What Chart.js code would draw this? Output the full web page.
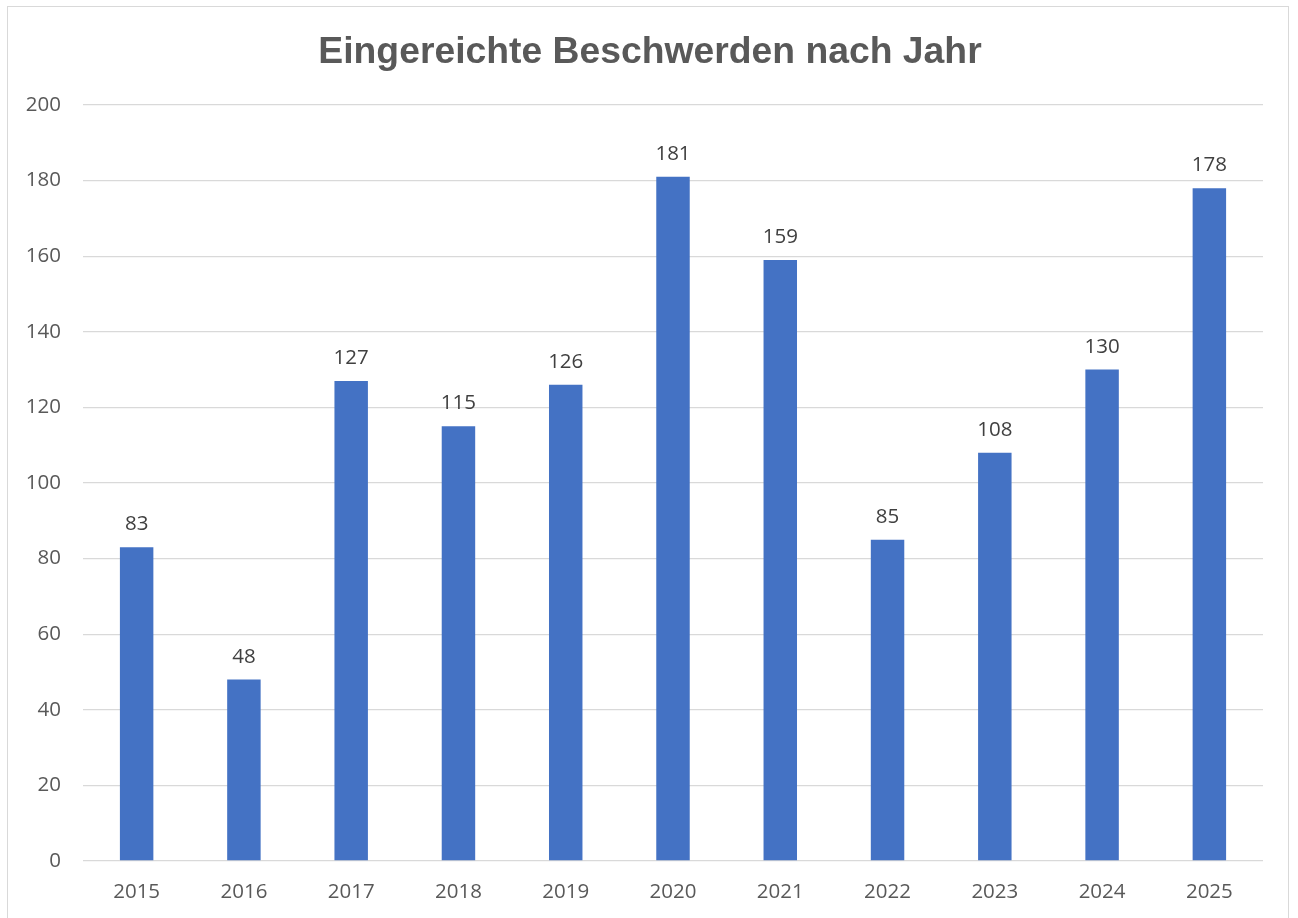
<!DOCTYPE html>
<html>
<head>
<meta charset="utf-8">
<script src="https://cdn.jsdelivr.net/npm/chart.js@4/dist/chart.umd.min.js"></script>
<style>
    html, body { margin: 0; padding: 0; background: #fff; overflow: hidden; }
    #frame {
        position: absolute; left: 7px; top: 6px; width: 1282px; height: 940px;
        border: 1px solid #d9d9d9; box-sizing: border-box;
    }
    #wrap { position: absolute; left: 0; top: 0; width: 1298px; height: 918px; }
</style>
</head>
<body>
<div id="frame"></div>
<div id="wrap"><canvas id="chart" width="1298" height="918"></canvas></div>
<script>
// Daten
const chartTitle = 'Eingereichte Beschwerden nach Jahr';
const years = ['2015', '2016', '2017', '2018', '2019', '2020', '2021', '2022', '2023', '2024', '2025'];
const complaints = [83, 48, 127, 115, 126, 181, 159, 85, 108, 130, 178];
const yTicks = [0, 20, 40, 60, 80, 100, 120, 140, 160, 180, 200];

const textFont = '"Open Sans", "Noto Sans", sans-serif';

// title drawn at a fixed spot, centred over the whole picture
const titlePlugin = {
    id: 'titlePlugin',
    afterDraw(chart) {
        const ctx = chart.ctx;
        ctx.save();
        ctx.font = 'bold 37.3px "Liberation Sans", Arial, sans-serif';
        ctx.fillStyle = '#595959';
        ctx.textAlign = 'center';
        ctx.textBaseline = 'alphabetic';
        ctx.fillText(chartTitle, 650, 63);
        ctx.restore();
    }
};

// value above each bar
const valueLabels = {
    id: 'valueLabels',
    afterDatasetsDraw(chart) {
        const ctx = chart.ctx;
        const meta = chart.getDatasetMeta(0);
        ctx.save();
        ctx.font = '20.5px ' + textFont;
        ctx.fillStyle = '#404040';
        ctx.textAlign = 'center';
        ctx.textBaseline = 'alphabetic';
        meta.data.forEach((bar, i) => {
            ctx.fillText(String(complaints[i]), bar.x, bar.y - 17);
        });
        ctx.restore();
    }
};

new Chart(document.getElementById('chart').getContext('2d'), {
    type: 'bar',
    data: {
        labels: years,
        datasets: [{
            data: complaints,
            backgroundColor: '#4472C4',
            borderWidth: 0,
            categoryPercentage: 1,
            barPercentage: 0.312
        }]
    },
    options: {
        responsive: false,
        animation: false,
        layout: { padding: { top: 105, right: 35, bottom: 0, left: 0 } },
        plugins: {
            legend: { display: false },
            title: { display: false },
            tooltip: { enabled: false }
        },
        scales: {
            x: {
                grid: { display: false, drawTicks: false },
                border: { display: false },
                ticks: { color: '#595959', font: { family: textFont, size: 20.5 }, padding: 19 },
                afterFit(scale) { scale.height = 57; }
            },
            y: {
                min: 0,
                max: 200,
                afterBuildTicks(scale) { scale.ticks = yTicks.map(v => ({ value: v })); },
                grid: { color: '#d9d9d9', lineWidth: 1.3, drawTicks: false },
                border: { display: false },
                ticks: { color: '#595959', font: { family: textFont, size: 20.5 }, padding: 22 },
                afterFit(scale) { scale.width = 83; }
            }
        }
    },
    plugins: [titlePlugin, valueLabels]
});
</script>
</body>
</html>
